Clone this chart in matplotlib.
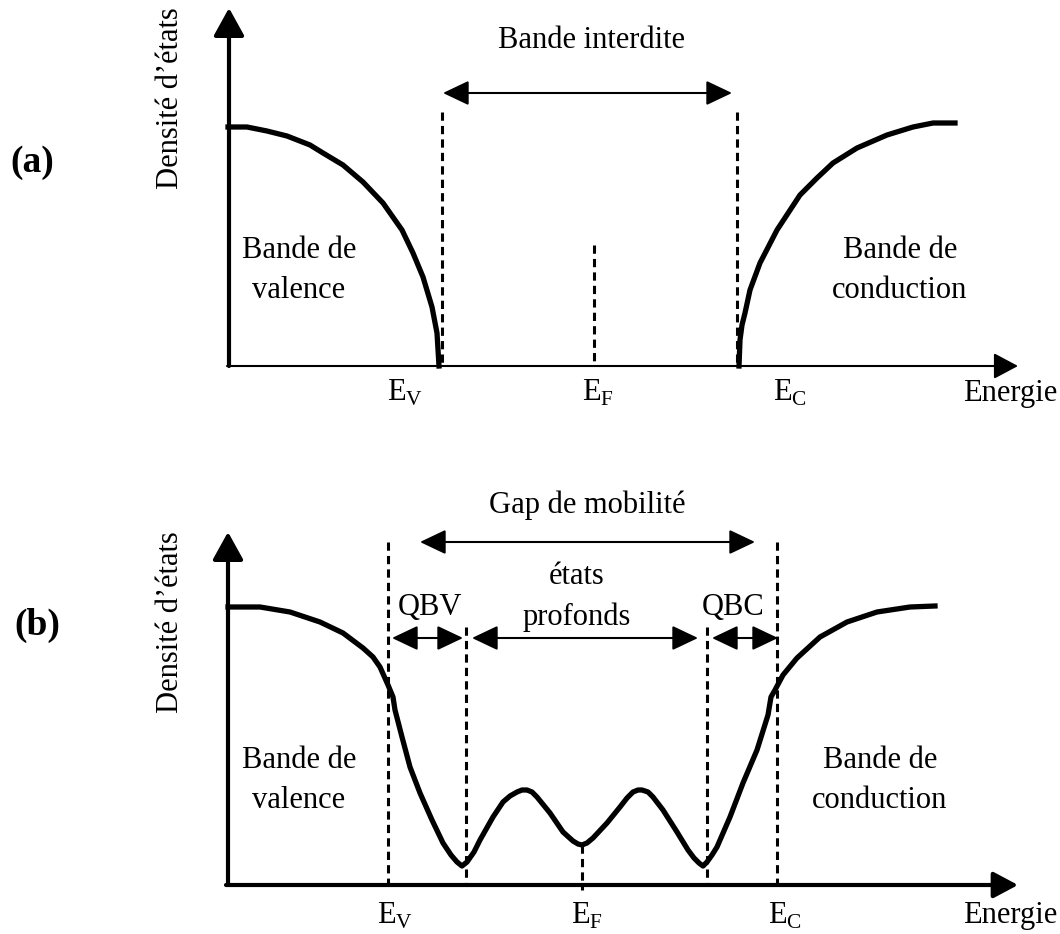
import numpy as np
import matplotlib.pyplot as plt

plt.rcParams['font.family'] = ['Liberation Serif', 'DejaVu Serif']
plt.rcParams['mathtext.fontset'] = 'custom'
plt.rcParams['mathtext.rm'] = 'Liberation Serif'

# --- panel (a): bandes de valence / conduction (coordonnees en pixels)
val_a_x = [228, 247, 267, 287, 310, 323, 343, 363, 383, 402, 413, 423, 432, 437, 439]
val_a_y = [127, 127, 131, 136, 145, 153, 165, 182, 203, 230, 253, 277, 307, 333, 366]
cond_a_x = [739, 740, 742, 745, 750, 760, 777, 800, 817, 833, 857, 887, 913, 933, 955]
cond_a_y = [366, 340, 325, 313, 290, 263, 230, 195, 178, 163, 148, 135, 127, 123, 123]

# --- panel (b): densite avec etats localises
dos_b_x = [228, 260, 290, 320, 343, 363, 373, 380, 388, 393, 395, 402, 410, 420, 432, 443, 451, 457, 462,
           467, 474, 480, 493, 503, 510, 517, 522, 527, 532, 537, 550, 563, 573, 578, 582, 587, 593,
           607, 620, 627, 633, 638, 642, 648, 653, 663, 677, 688, 694, 699, 703,
           707, 712, 717, 730, 743, 757, 768, 771, 775, 783, 797,
           820, 847, 877, 910, 935]
dos_b_y = [607, 607, 612, 622, 633, 648, 657, 667, 685, 697, 710, 737, 767, 793, 820, 843, 855, 862, 866,
           862, 852, 840, 817, 802, 796, 792, 790, 790, 792, 797, 813, 832, 841, 844, 845, 843, 838,
           823, 807, 798, 792, 790, 790, 792, 797, 810, 832, 850, 858, 863, 866,
           862, 855, 847, 817, 783, 750, 715, 697, 690, 675, 658,
           637, 622, 612, 607, 606]

# lignes pointillees : (x, y_haut, y_bas)
dash_a = [(442, 112, 366), (737, 112, 366), (594, 245, 366)]
dash_b = [(388, 542, 885), (466, 627, 885), (707, 627, 885), (777, 542, 885), (582, 845, 890)]

# fleches doubles : (x1, x2, y)
arrows_a = [(443, 732, 93)]
arrows_b = [(420, 755, 542), (392, 463, 638), (472, 698, 638), (712, 778, 638)]

fig = plt.figure(figsize=(10.6, 9.34), dpi=100)
ax = fig.add_axes([0, 0, 1, 1])
ax.set_xlim(0, 1060)
ax.set_ylim(934, 0)
ax.axis('off')

def axis_arrow(x0, y0, x1, y1, lw, hl, hw):
    ax.annotate('', xy=(x1, y1), xytext=(x0, y0),
                arrowprops=dict(arrowstyle=f'-|>,head_length={hl},head_width={hw}',
                                lw=lw, color='k', shrinkA=0, shrinkB=0, mutation_scale=20))

def double_arrow(x1, x2, y):
    ax.annotate('', xy=(x2, y), xytext=(x1, y),
                arrowprops=dict(arrowstyle='<|-|>,head_length=0.8,head_width=0.38',
                                lw=1.5, color='k', shrinkA=0, shrinkB=0, mutation_scale=20))

# axes (a)
axis_arrow(229, 366, 229, 8, 3.0, 0.85, 0.47)
axis_arrow(227, 366, 1018, 366, 1.5, 0.75, 0.4)
# axes (b)
axis_arrow(228, 885, 228, 532, 3.0, 0.85, 0.47)
axis_arrow(226, 885, 1018, 885, 3.0, 0.75, 0.4)

ax.plot(val_a_x, val_a_y, color='k', lw=3.8, solid_joinstyle='round')
ax.plot(cond_a_x, cond_a_y, color='k', lw=3.8, solid_joinstyle='round')
ax.plot(dos_b_x, dos_b_y, color='k', lw=3.8, solid_joinstyle='round')

for x, y0, y1 in dash_a + dash_b:
    ax.plot([x, x], [y0, y1], color='k', lw=2.2, linestyle=(0, (2.7, 1.7)))

for x1, x2, y in arrows_a + arrows_b:
    double_arrow(x1, x2, y)

fs = 22
txt = dict(ha='center', va='center', fontsize=fs)
ax.text(591, 40, 'Bande interdite', **txt)
ax.text(299, 250, 'Bande de', **txt)
ax.text(299, 290, 'valence', **txt)
ax.text(900, 250, 'Bande de', **txt)
ax.text(900, 290, 'conduction', **txt)
ax.text(171, 98, 'Densité d’états', rotation=90, **txt)
ax.text(32, 163, '(a)', ha='center', va='center', fontsize=27, fontweight='bold')

ax.text(587, 505, 'Gap de mobilité', **txt)
ax.text(577, 577, 'états', **txt)
ax.text(577, 617, 'profonds', **txt)
ax.text(430, 608, 'QBV', **txt)
ax.text(733, 608, 'QBC', **txt)
ax.text(299, 760, 'Bande de', **txt)
ax.text(299, 800, 'valence', **txt)
ax.text(880, 760, 'Bande de', **txt)
ax.text(880, 800, 'conduction', **txt)
ax.text(171, 622, 'Densité d’états', rotation=90, **txt)
ax.text(37, 625, '(b)', ha='center', va='center', fontsize=27, fontweight='bold')

# etiquettes d'energie
lab_a = [(405, r'E$_\mathrm{V}$'), (598, r'E$_\mathrm{F}$'), (790, r'E$_\mathrm{C}$'), (1010, 'Energie')]
lab_b = [(395, r'E$_\mathrm{V}$'), (587, r'E$_\mathrm{F}$'), (785, r'E$_\mathrm{C}$'), (1010, 'Energie')]
for x, s in lab_a:
    ax.text(x, 393, s, **txt)
for x, s in lab_b:
    ax.text(x, 916, s, **txt)

fig.savefig('out.png', dpi=100)
